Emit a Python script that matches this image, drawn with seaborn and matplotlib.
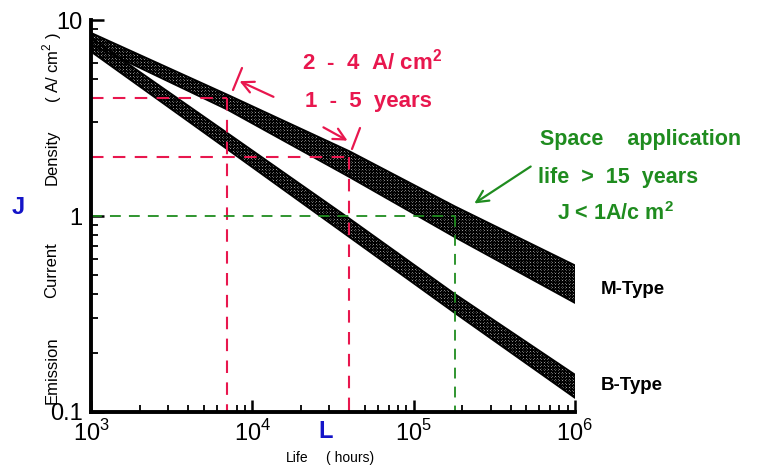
import matplotlib
matplotlib.use("Agg")
import pandas as pd
import matplotlib.pyplot as plt
import seaborn as sns

# values (life in hours, J in A/cm^2)
life_hours = [1e3, 7e3, 4e4, 1.8e5, 1e6]
m_type_upper = [8.6, 4.16, 2.14, 1.12, 0.56]
m_type_lower = [7.5, 3.49, 1.58, 0.78, 0.36]
b_type_upper = [8.1, 2.65, 0.97, 0.40, 0.155]
b_type_lower = [6.9, 2.19, 0.78, 0.32, 0.118]

red_density = [4, 2]
red_life = [7e3, 4e4]
green_density = [1]
green_life = [1.8e5]

x_ticks = [1e3, 1e4, 1e5, 1e6]
x_tick_labels = ["$10^3$", "$10^4$", "$10^5$", "$10^6$"]
y_ticks = [0.1, 1, 10]
y_tick_labels = ["0.1", "1", "10"]

RED = "#e8174e"
GREEN = "#1f8c1f"
BLUE = "#1414c8"

sns.set_theme(style="white")
plt.rcParams["font.family"] = ["Liberation Sans", "DejaVu Sans"]
plt.rcParams["text.color"] = "black"
plt.rcParams["hatch.linewidth"] = 0.85
plt.rcParams["mathtext.fontset"] = "custom"
plt.rcParams["mathtext.rm"] = "Liberation Sans"
plt.rcParams["mathtext.bf"] = "Liberation Sans:bold"

df = pd.DataFrame({
    "life": life_hours * 4,
    "J": m_type_upper + m_type_lower + b_type_upper + b_type_lower,
    "edge": ["mu"] * 5 + ["ml"] * 5 + ["bu"] * 5 + ["bl"] * 5,
})

fig = plt.figure(figsize=(7.69, 4.70), dpi=100)
ax = fig.add_axes([91 / 769, 1 - 412 / 470, (575 - 91) / 769, (412 - 20) / 470])
ax.set_xscale("log")
ax.set_yscale("log")

# hatched bands
for up, lo in [(m_type_upper, m_type_lower), (b_type_upper, b_type_lower)]:
    ax.fill_between(life_hours, lo, up, facecolor="white", edgecolor="black",
                    hatch="xxxxxxxxxxxx", linewidth=0)
sns.lineplot(data=df, x="life", y="J", units="edge", estimator=None,
             color="black", lw=1.3, ax=ax, legend=False)

# guide lines
dash = (0, (6, 4.5))
for j, t in zip(red_density, red_life):
    ax.plot([x_ticks[0], t], [j, j], color=RED, lw=1.5, ls=dash)
    ax.plot([t, t], [j, y_ticks[0]], color=RED, lw=1.5, ls=dash)
for j, t in zip(green_density, green_life):
    ax.plot([x_ticks[0], t], [j, j], color=GREEN, lw=1.3, ls=dash)
    ax.plot([t, t], [j, y_ticks[0]], color=GREEN, lw=1.3, ls=dash)

ax.set_xlim(x_ticks[0], x_ticks[-1])
ax.set_ylim(y_ticks[0], y_ticks[-1])
ax.set_xticks(x_ticks)
ax.set_xticklabels(x_tick_labels, fontsize=17)
ax.set_yticks(y_ticks)
ax.set_yticklabels(y_tick_labels, fontsize=17)
ax.tick_params(which="major", direction="in", length=9, width=1.8, pad=6, colors="black")
ax.tick_params(which="minor", direction="in", length=5, width=1.3, colors="black")
ax.tick_params(axis="both", which="both", bottom=True, left=True, top=False, right=False)
ax.set_xlabel("")
ax.set_ylabel("")
for s in ["top", "right"]:
    ax.spines[s].set_visible(False)
for s in ["left", "bottom"]:
    ax.spines[s].set_color("black")
    ax.spines[s].set_linewidth(2.8)


def px(x, y):
    return x / 769, 1 - y / 470


# axis titles
for txt, yc in [("Emission", 370), ("Current", 270), ("Density", 157), ("( A/ cm$^2$ )", 68)]:
    fig.text(*px(52, yc), txt, rotation=90, ha="center", va="center", fontsize=12)
fig.text(*px(18, 207), "J", color=BLUE, fontsize=17, fontweight="bold", ha="center", va="center")
fig.text(*px(326, 432), "L", color=BLUE, fontsize=17, fontweight="bold", ha="center", va="center")
fig.text(*px(297, 458), "Life", fontsize=10, ha="center", va="center")
fig.text(*px(350, 458), "( hours)", fontsize=10, ha="center", va="center")

# annotations
fig.text(*px(372, 62), r"2  -  4  A/ cm$^{\mathbf{2}}$", color=RED, fontsize=16, fontweight="bold",
         ha="center", va="center")
fig.text(*px(368, 101), "1  -  5  years", color=RED, fontsize=16, fontweight="bold",
         ha="center", va="center")
arrow = dict(arrowstyle="->,head_length=0.7,head_width=0.35", lw=1.6)
ax.annotate("", xy=px(237, 80), xytext=px(276, 98), xycoords="figure fraction",
            arrowprops=dict(arrow, color=RED))
ax.annotate("", xy=px(350, 142), xytext=px(321, 126), xycoords="figure fraction",
            arrowprops=dict(arrow, color=RED))
fig.add_artist(plt.Line2D([px(242, 68)[0], px(233, 90)[0]], [px(242, 68)[1], px(233, 90)[1]],
                          color=RED, lw=1.6))
fig.add_artist(plt.Line2D([px(360, 128)[0], px(352, 149)[0]], [px(360, 128)[1], px(352, 149)[1]],
                          color=RED, lw=1.6))

fig.text(*px(540, 140), "Space    application", color=GREEN, fontsize=15.5, fontweight="bold",
         ha="left", va="center")
fig.text(*px(538, 178), "life  >  15  years", color=GREEN, fontsize=15.5, fontweight="bold",
         ha="left", va="center")
fig.text(*px(557, 214), r"J < 1A/c m$^{\mathbf{2}}$", color=GREEN, fontsize=15.5, fontweight="bold",
         ha="left", va="center")
ax.annotate("", xy=px(472, 205), xytext=px(533, 165), xycoords="figure fraction",
            arrowprops=dict(arrow, color=GREEN))

fig.text(*px(601, 290), "M-Type", fontsize=13.5, fontweight="bold", ha="left", va="center")
fig.text(*px(601, 385), "B-Type", fontsize=13.5, fontweight="bold", ha="left", va="center")

fig.savefig("out.png", dpi=100)
